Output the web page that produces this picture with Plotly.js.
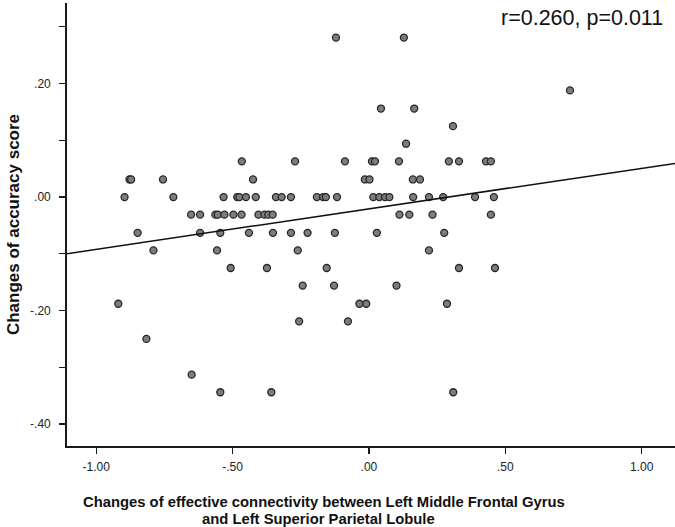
<!DOCTYPE html>
<html>
<head>
<meta charset="utf-8">
<script src="https://cdn.plot.ly/plotly-3.0.1.min.js"></script>
<style>html,body{margin:0;padding:0;background:#fff;}#chart{width:675px;height:527px;}</style>
</head>
<body>
<div id="chart"></div>
<script>
// Changes of effective connectivity (x) vs changes of accuracy score (y)
const connectivity = [
  -0.121, 0.128,
  0.737,
  0.044, 0.166,
  0.308,
  0.136,
  -0.466, -0.271, -0.088, 0.011, 0.022, 0.110, 0.293, 0.330, 0.429, 0.447,
  -0.878, -0.872, -0.755, -0.425, -0.015, 0.002, 0.161, 0.187,
  -0.896, -0.717, -0.533, -0.483, -0.475, -0.451, -0.415, -0.341, -0.320, -0.286, -0.191, -0.168, -0.158, -0.117, 0.016, 0.038, 0.059, 0.075, 0.162, 0.220, 0.272, 0.389, 0.458,
  -0.652, -0.619, -0.563, -0.554, -0.530, -0.497, -0.467, -0.405, -0.383, -0.369, -0.353, 0.112, 0.148, 0.233, 0.447,
  -0.848, -0.619, -0.545, -0.440, -0.352, -0.286, -0.225, -0.125, 0.029, 0.276,
  -0.790, -0.557, -0.261, 0.220,
  -0.507, -0.374, -0.155, 0.330, 0.462,
  -0.243, -0.128, 0.101,
  -0.919, -0.035, -0.010, 0.286,
  -0.256, -0.077,
  -0.816,
  -0.650,
  -0.545, -0.358, 0.309
];
const accuracy = [
  0.281, 0.281,
  0.188,
  0.156, 0.156,
  0.125,
  0.094,
  0.063, 0.063, 0.063, 0.063, 0.063, 0.063, 0.063, 0.063, 0.063, 0.063,
  0.031, 0.031, 0.031, 0.031, 0.031, 0.031, 0.031, 0.031,
  0, 0, 0, 0, 0, 0, 0, 0, 0, 0, 0, 0, 0, 0, 0, 0, 0, 0, 0, 0, 0, 0, 0,
  -0.031, -0.031, -0.031, -0.031, -0.031, -0.031, -0.031, -0.031, -0.031, -0.031, -0.031, -0.031, -0.031, -0.031, -0.031,
  -0.063, -0.063, -0.063, -0.063, -0.063, -0.063, -0.063, -0.063, -0.063, -0.063,
  -0.094, -0.094, -0.094, -0.094,
  -0.125, -0.125, -0.125, -0.125, -0.125,
  -0.156, -0.156, -0.156,
  -0.188, -0.188, -0.188, -0.188,
  -0.219, -0.219,
  -0.25,
  -0.313,
  -0.344, -0.344, -0.344
];
const xTickVals = [-1, -0.5, 0, 0.5, 1];
const xTickText = ["-1.00", "-.50", ".00", ".50", "1.00"];
const yTickVals = [0.3, 0.2, 0.1, 0, -0.1, -0.2, -0.3, -0.4];
const yTickText = ["", ".20", "", ".00", "", "-.20", "", "-.40"];
const statsText = "r=0.260, p=0.011";
const xTitle1 = "Changes of effective connectivity between Left Middle Frontal Gyrus";
const xTitle2 = "and Left Superior Parietal Lobule";
const yTitle = "Changes of accuracy score";

const xRange = [-1.107, 1.122];
const yRange = [-0.4387, 0.342];

// least squares fit
const n = connectivity.length;
const mx = connectivity.reduce((a, b) => a + b, 0) / n;
const my = accuracy.reduce((a, b) => a + b, 0) / n;
let sxy = 0, sxx = 0;
for (let i = 0; i < n; i++) { sxy += (connectivity[i] - mx) * (accuracy[i] - my); sxx += (connectivity[i] - mx) ** 2; }
const slope = sxy / sxx;
const intercept = my - slope * mx;
const fitX = xRange.slice();
const fitY = fitX.map(v => intercept + slope * v);

const font = "Liberation Sans, Arial, Helvetica, sans-serif";

const traces = [
  {
    x: connectivity, y: accuracy, type: "scatter", mode: "markers",
    marker: { size: 7, color: "#7d7d7d", line: { color: "#262626", width: 1.3 } },
    hoverinfo: "x+y", showlegend: false
  },
  {
    x: fitX, y: fitY, type: "scatter", mode: "lines",
    line: { color: "#111", width: 1.5 }, hoverinfo: "skip", showlegend: false
  }
];

const layout = {
  width: 675, height: 527,
  margin: { l: 67, r: 0, t: 3, b: 81 },
  paper_bgcolor: "#fff", plot_bgcolor: "#fff",
  font: { family: font, color: "#222" },
  showlegend: false,
  xaxis: {
    range: xRange, showgrid: false, zeroline: false,
    showline: true, linecolor: "#1a1a1a", linewidth: 1.8,
    ticks: "outside", ticklen: 6, tickwidth: 1.3, tickcolor: "#1a1a1a",
    tickmode: "array", tickvals: xTickVals, ticktext: xTickText,
    ticklabelstandoff: 3,
    tickfont: { size: 12, color: "#222" }
  },
  yaxis: {
    range: yRange, showgrid: false, zeroline: false,
    showline: true, linecolor: "#1a1a1a", linewidth: 1.8,
    ticks: "outside", ticklen: 6, tickwidth: 1.3, tickcolor: "#1a1a1a",
    tickmode: "array", tickvals: yTickVals, ticktext: yTickText,
    ticklabelstandoff: 6,
    tickfont: { size: 12, color: "#222" },
    title: { text: "<b>" + yTitle + "</b>", font: { size: 17, color: "#111" }, standoff: 6 }
  },
  annotations: [
    { text: statsText, xref: "paper", yref: "paper", x: 0.9836, y: 0.967,
      xanchor: "right", yanchor: "middle", showarrow: false,
      font: { size: 21.5, color: "#111", family: font } },
    { text: "<b>" + xTitle1 + "</b>", xref: "paper", yref: "paper",
      x: 0.423, y: -(502 - 446) / 443, xanchor: "center", yanchor: "middle", showarrow: false,
      font: { size: 14.8, color: "#111", family: font } },
    { text: "<b>" + xTitle2 + "</b>", xref: "paper", yref: "paper",
      x: 0.414, y: -(518.5 - 446) / 443, xanchor: "center", yanchor: "middle", showarrow: false,
      font: { size: 14.8, color: "#111", family: font } }
  ]
};

Plotly.newPlot("chart", traces, layout, { displayModeBar: false, staticPlot: true });
</script>
</body>
</html>
